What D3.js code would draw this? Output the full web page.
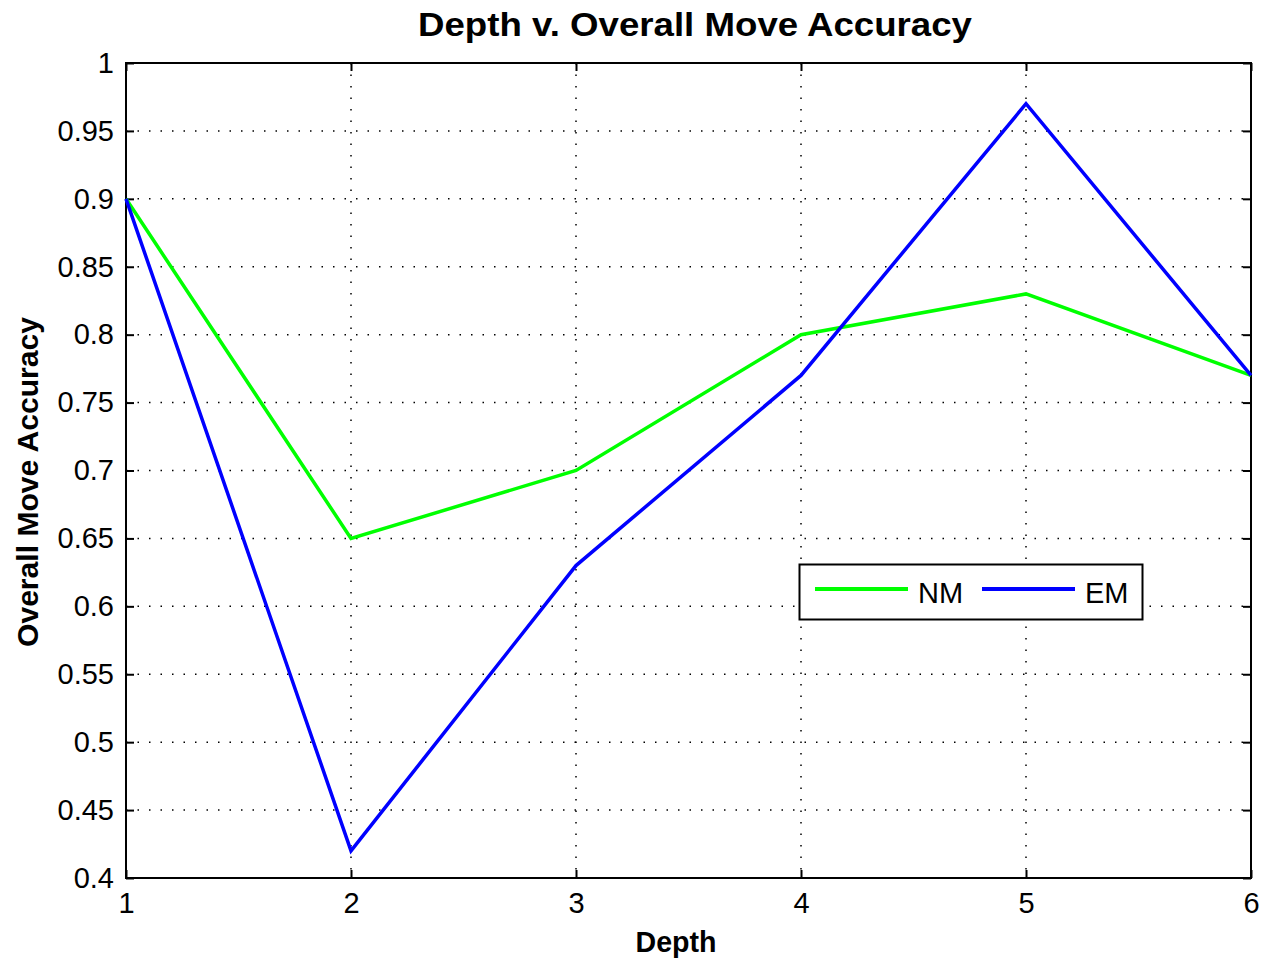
<!DOCTYPE html>
<html><head><meta charset="utf-8">
<script src="https://cdn.jsdelivr.net/npm/d3@7"></script>
<style>
html,body{margin:0;padding:0;background:#fff;}
svg{display:block;font-family:"Liberation Sans",Arial,sans-serif;}
</style></head>
<body>
<svg id="chart" width="1265" height="960"></svg>
<script>
const depths = [1, 2, 3, 4, 5, 6];
const nmValues = [0.90, 0.65, 0.70, 0.80, 0.83, 0.77];
const emValues = [0.90, 0.42, 0.63, 0.77, 0.97, 0.77];
const yTicks = [0.4, 0.45, 0.5, 0.55, 0.6, 0.65, 0.7, 0.75, 0.8, 0.85, 0.9, 0.95, 1];
const xTicks = [1, 2, 3, 4, 5, 6];
const seriesNames = ["NM", "EM"];
const seriesColors = ["#00ff00", "#0000ff"];

const svg = d3.select("#chart");
const L = 126, R = 1251, T = 63, B = 878;
const x = d3.scaleLinear().domain([1, 6]).range([L, R]);
const y = d3.scaleLinear().domain([0.4, 1]).range([B, T]);

// grid
const g = svg.append("g");
g.selectAll(".vg").data(xTicks.slice(1, -1)).join("line")
  .attr("x1", d => x(d)).attr("x2", d => x(d)).attr("y1", T).attr("y2", B)
  .attr("stroke", "#000").attr("stroke-width", 1.5).attr("stroke-dasharray", "1.5,10");
g.selectAll(".hg").data(yTicks.slice(1, -1)).join("line")
  .attr("y1", d => y(d)).attr("y2", d => y(d)).attr("x1", L).attr("x2", R)
  .attr("stroke", "#000").attr("stroke-width", 1.5).attr("stroke-dasharray", "1.5,10");

// axes
const fmt = d => String(+d.toFixed(2));
const axB = d3.axisBottom(x).tickValues(xTicks).tickSize(-8).tickPadding(14).tickFormat(d3.format("d"));
const axT = d3.axisTop(x).tickValues(xTicks).tickSize(-8).tickFormat("");
const axL = d3.axisLeft(y).tickValues(yTicks).tickSize(-8).tickPadding(12).tickFormat(fmt);
const axR = d3.axisRight(y).tickValues(yTicks).tickSize(-8).tickFormat("");
function style(sel) {
  sel.selectAll("line").attr("stroke", "#000").attr("stroke-width", 2);
  sel.selectAll("text").attr("fill", "#000").style("font-size", "29px").style("font-family", "'Liberation Sans',Arial,sans-serif");
}
svg.append("g").attr("transform", `translate(0,${B})`).call(axB).call(style).call(s => s.select(".domain").remove());
svg.append("g").attr("transform", `translate(0,${T})`).call(axT).call(style).call(s => s.select(".domain").remove());
svg.append("g").attr("transform", `translate(${L},0)`).call(axL).call(style).call(s => s.select(".domain").remove());
svg.append("g").attr("transform", `translate(${R},0)`).call(axR).call(style).call(s => s.select(".domain").remove());
svg.append("rect").attr("x", L).attr("y", T).attr("width", R - L).attr("height", B - T)
  .attr("fill", "none").attr("stroke", "#000").attr("stroke-width", 2);

// lines
const line = d3.line().x((d, i) => x(depths[i])).y(d => y(d));
[nmValues, emValues].forEach((vals, k) => {
  svg.append("path").datum(vals).attr("d", line)
    .attr("fill", "none").attr("stroke", seriesColors[k]).attr("stroke-width", 3.5)
    .attr("stroke-linejoin", "miter");
});

// title and labels
svg.append("text").attr("x", 695).attr("y", 36).attr("text-anchor", "middle")
  .attr("textLength", 554).attr("lengthAdjust", "spacingAndGlyphs")
  .style("font-size", "33px").style("font-weight", "bold").text("Depth v. Overall Move Accuracy");
svg.append("text").attr("x", 676).attr("y", 952).attr("text-anchor", "middle")
  .attr("textLength", 81).attr("lengthAdjust", "spacingAndGlyphs")
  .style("font-size", "29px").style("font-weight", "bold").text("Depth");
svg.append("text").attr("transform", "translate(38,482) rotate(-90)").attr("text-anchor", "middle")
  .attr("textLength", 330).attr("lengthAdjust", "spacingAndGlyphs")
  .style("font-size", "29px").style("font-weight", "bold").text("Overall Move Accuracy");

// legend
const lg = svg.append("g");
lg.append("rect").attr("x", 799.5).attr("y", 564.5).attr("width", 343).attr("height", 55)
  .attr("fill", "#fff").attr("stroke", "#000").attr("stroke-width", 2);
const legX = [815, 982];
seriesNames.forEach((n, k) => {
  lg.append("line").attr("x1", legX[k]).attr("x2", legX[k] + 93).attr("y1", 589).attr("y2", 589)
    .attr("stroke", seriesColors[k]).attr("stroke-width", 4);
  lg.append("text").attr("x", legX[k] + 103).attr("y", 603).style("font-size", "29px").text(n);
});
</script>
</body></html>
